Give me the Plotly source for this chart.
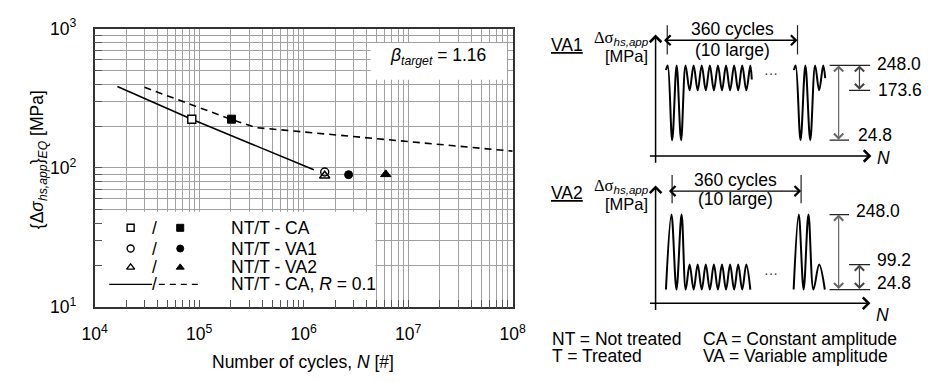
import plotly.graph_objects as go

W, H = 933, 382
FONT = "Liberation Sans, Arial, Helvetica, sans-serif"
FS = 17.5

# ---------------- S-N chart data ----------------
x_decades = [4, 5, 6, 7, 8]
y_decades = [1, 2, 3]

nt_curve_N = [1.65e4, 8.5e4, 1.25e6]          # NT - CA, R = 0.1 (solid)
nt_curve_S = [384, 224, 97]
t_curve_N = [3.0e4, 2.0e5, 3.5e5, 1.0e6, 1.0e8]  # T - CA, R = 0.1 (dashed)
t_curve_S = [379, 224, 195, 181, 132]

nt_ca_N, nt_ca_S = [8.5e4], [224]
t_ca_N, t_ca_S = [2.04e5], [224]
nt_va1_N, nt_va1_S = [1.59e6], [93.5]
t_va1_N, t_va1_S = [2.69e6], [89.5]
nt_va2_N, nt_va2_S = [1.59e6], [88.0]
t_va2_N, t_va2_S = [6.1e6], [90.0]

beta_target = 1.16
legend_labels = ["NT/T - CA", "NT/T - VA1", "NT/T - VA2", "NT/T - CA, <i>R</i> = 0.1"]

# ---------------- load spectra data ----------------
S_MAX, S_MIN = 248.0, 24.8
VA1_SMALL_MIN = 173.6
VA2_SMALL_MAX = 99.2

va1_g1_t = [1.28, 1.5, 2.05, 2.6, 3.15, 3.7] + [4.2 + 0.5 * i for i in range(16)] + [11.88]
va1_g1_s = [234, S_MAX, S_MIN, S_MAX, S_MIN, S_MAX] + [VA1_SMALL_MIN, S_MAX] * 8 + [206]
va1_g2_t = [17.08, 17.3, 17.9, 18.5, 19.1, 19.7, 20.2, 20.7, 20.95]
va1_g2_s = [234, S_MAX, S_MIN, S_MAX, S_MIN, S_MAX, VA1_SMALL_MIN, S_MAX, 210]

va2_g1_t = [1.28, 1.96, 2.58, 3.21, 3.72] + [4.2 + 0.5 * i for i in range(16)]
va2_g1_s = [S_MIN, S_MAX, S_MIN, S_MAX, S_MIN] + [VA2_SMALL_MAX, S_MIN] * 8
va2_g2_t = [17.05, 17.68, 18.28, 18.88, 19.5, 20.2, 20.9]
va2_g2_s = [S_MIN, S_MAX, S_MIN, S_MAX, S_MIN, VA2_SMALL_MAX, S_MIN]


# ---------------- helpers (layout placement only) ----------------
def PX(px):
    return px / W


def PY(py):
    return 1 - py / H


def main_x(px):
    return 10 ** (4 + (px - 84) / 107.5)


def main_y(py):
    return 10 ** (3 - (py - 17.7) / 147.8)


AX0 = 661      # pixel position of the spectra time axis origin
TSCALE = 8.33  # pixels per cycle in the spectra sketches


def tx(px):
    return (px - AX0) / TSCALE


fig = go.Figure()

# ---- main chart traces ----
fig.add_trace(go.Scatter(x=nt_curve_N, y=nt_curve_S, mode="lines",
                         line=dict(color="black", width=1.6)))
fig.add_trace(go.Scatter(x=t_curve_N, y=t_curve_S, mode="lines",
                         line=dict(color="black", width=1.6, dash="7px,5px")))


def add_marker(N, S, symbol, filled, size, xa="x", ya="y"):
    if filled:
        m = dict(symbol=symbol, size=size, color="black", line=dict(color="black", width=1))
    elif symbol == "square":
        m = dict(symbol="square", size=size, color="white", line=dict(color="black", width=1.4))
    else:
        m = dict(symbol=symbol + "-open", size=size, color="black", line=dict(width=1.4))
    fig.add_trace(go.Scatter(x=N, y=S, mode="markers", marker=m, cliponaxis=False,
                             xaxis=xa, yaxis=ya))


add_marker(nt_ca_N, nt_ca_S, "square", False, 8)
add_marker(t_ca_N, t_ca_S, "square", True, 8)
add_marker(nt_va1_N, nt_va1_S, "circle", False, 8)
add_marker(t_va1_N, t_va1_S, "circle", True, 8)
add_marker(nt_va2_N, nt_va2_S, "triangle-up", False, 9)
add_marker(t_va2_N, t_va2_S, "triangle-up", True, 9)

# ---- legend keys (pixel-space helper axes) ----
leg_rows = [229, 251, 271, 289]
for sym, py in zip(["square", "circle", "triangle-up"], leg_rows[:3]):
    add_marker([121], [py], sym, False, 7, "x4", "y4")
    add_marker([172], [py], sym, True, 7, "x4", "y4")
fig.add_trace(go.Scatter(x=[99, 143], y=[leg_rows[3]] * 2, mode="lines",
                         line=dict(color="black", width=1.4), xaxis="x4", yaxis="y4"))
fig.add_trace(go.Scatter(x=[150, 193], y=[leg_rows[3]] * 2, mode="lines",
                         line=dict(color="black", width=1.4, dash="6px,5px"),
                         xaxis="x4", yaxis="y4"))

# ---- waveforms ----
for t, s, xa, ya in [(va1_g1_t, va1_g1_s, "x2", "y2"), (va1_g2_t, va1_g2_s, "x2", "y2"),
                     (va2_g1_t, va2_g1_s, "x3", "y3"), (va2_g2_t, va2_g2_s, "x3", "y3")]:
    fig.add_trace(go.Scatter(x=t, y=s, mode="lines", line=dict(color="black", width=2, shape="spline"),
                             xaxis=xa, yaxis=ya, cliponaxis=False))

# ---------------- axes ----------------
xt = [m * 10 ** d for d in x_decades[:-1] for m in range(1, 10)] + [10 ** x_decades[-1]]
xtt = [f"10<sup>{d}</sup>" if m == 1 else "" for d in x_decades[:-1] for m in range(1, 10)] + [f"10<sup>{x_decades[-1]}</sup>"]
yt = [m * 10 ** d for d in y_decades[:-1] for m in range(1, 10)] + [10 ** y_decades[-1]]
ytt = [f"10<sup>{d}</sup>" if m == 1 else "" for d in y_decades[:-1] for m in range(1, 10)] + [f"10<sup>{y_decades[-1]}</sup>"]

common = dict(showgrid=True, gridcolor="#a0a0a0", gridwidth=1.2, zeroline=False,
              showline=True, linecolor="#333", linewidth=1.5, mirror=True,
              ticks="inside", ticklen=8, tickcolor="#555", tickwidth=1.2,
              tickfont=dict(size=FS, family=FONT, color="black"))
hidden = dict(visible=False, showgrid=False, zeroline=False, fixedrange=True)
TMAX = (W - AX0) / TSCALE

fig.update_layout(
    width=W, height=H, margin=dict(l=0, r=0, t=0, b=0),
    paper_bgcolor="white", plot_bgcolor="rgba(0,0,0,0)", showlegend=False,
    font=dict(family=FONT, size=FS, color="black"),
    xaxis=dict(type="log", range=[4, 8], domain=[PX(84), PX(514)], anchor="y",
               tickvals=xt, ticktext=xtt, ticklabelstandoff=10, **common),
    yaxis=dict(type="log", range=[1, 3], domain=[PY(313.3), PY(17.7)], anchor="x",
               tickvals=yt, ticktext=ytt, ticklabelstandoff=13, **common),
    xaxis2=dict(range=[0, TMAX], domain=[PX(AX0), 1], anchor="y2", **hidden),
    yaxis2=dict(range=[-22.2, 368.2], domain=[PY(152.7), PY(14)], anchor="x2", **hidden),
    xaxis3=dict(range=[0, TMAX], domain=[PX(AX0), 1], anchor="y3", **hidden),
    yaxis3=dict(range=[-15.9, 365.9], domain=[PY(309), PY(173)], anchor="x3", **hidden),
    xaxis4=dict(range=[0, W], domain=[0, 1], anchor="y4", **hidden),
    yaxis4=dict(range=[H, 0], domain=[0, 1], anchor="x4", **hidden),
)

shapes = []
# white boxes hiding the grid (legend box and beta box)
shapes.append(dict(type="rect", xref="x", yref="y", layer="between",
                   x0=main_x(84), x1=main_x(372.7), y0=main_y(313.3), y1=main_y(212),
                   fillcolor="white", line=dict(width=0)))
shapes.append(dict(type="rect", xref="x", yref="y", layer="between",
                   x0=main_x(368), x1=main_x(508), y0=main_y(72), y1=main_y(33),
                   fillcolor="white", line=dict(width=0)))

# level lines of the spectra
LC = "#222"
for xa, ya, lines in [
    ("x2", "y2", [(S_MAX, 840, 881.7), (VA1_SMALL_MIN, 860, 881.7), (S_MIN, 840, 860)]),
    ("x3", "y3", [(S_MAX, 840, 860), (VA2_SMALL_MAX, 860, 881.7), (S_MIN, 840, 881.7)]),
]:
    for lev, a, b in lines:
        shapes.append(dict(type="line", xref=xa, yref=ya, x0=tx(a), x1=tx(b), y0=lev, y1=lev,
                           line=dict(color=LC, width=1.3)))

# "360 cycles" bracket ticks
for x0, x1, ytop, ybot in [(673, 807, 14, 45), (678, 810.7, 173, 203)]:
    for xx in (x0, x1):
        shapes.append(dict(type="line", xref="paper", yref="paper", x0=PX(xx), x1=PX(xx),
                           y0=PY(ytop), y1=PY(ybot), line=dict(color="#222", width=1.2)))
fig.update_layout(shapes=shapes)

ann = []


def text(t, px, py, xanchor="center", size=FS, **kw):
    ann.append(dict(text=t, x=PX(px), y=PY(py), xref="paper", yref="paper", showarrow=False,
                    xanchor=xanchor, yanchor="middle", font=dict(size=size, family=FONT,
                                                                   color=kw.pop("color", "black")), **kw))


def arrow_px(xtip, ytip, xtail, ytail, both=False, color="black", width=1.3):
    ann.append(dict(text="", x=PX(xtip), y=PY(ytip), xref="paper", yref="paper",
                    ax=xtail - xtip, ay=ytail - ytip, showarrow=True, arrowhead=4, arrowsize=1.5,
                    startarrowhead=4, startarrowsize=1.5,
                    arrowside="end+start" if both else "end", arrowwidth=width,
                    arrowcolor=color, standoff=0, startstandoff=0, borderpad=0,
                    font=dict(size=1)))


def arrow_data(xa, ya, xv, y_tip, y_tail, color="#555"):
    ann.append(dict(text="", x=xv, y=y_tip, xref=xa, yref=ya, axref=xa, ayref=ya,
                    ax=xv, ay=y_tail, showarrow=True, arrowhead=4, arrowsize=1.5,
                    startarrowhead=4, startarrowsize=1.5, arrowside="end+start",
                    arrowwidth=1.2, arrowcolor=color, standoff=0, startstandoff=0,
                    borderpad=0, font=dict(size=1)))


def level_text(xa, ya, t, px, lev, yshift):
    ann.append(dict(text=t, x=tx(px), y=lev, xref=xa, yref=ya, showarrow=False,
                    xanchor="left", yanchor="middle", yshift=yshift,
                    font=dict(size=FS, family=FONT, color="black")))


# main chart texts
text("<i>β</i><sub><i>target</i></sub> = %.2f" % beta_target, 437, 47)
text("Number of cycles, <i>N</i> [#]", 298.7, 371.7)
ann.append(dict(text="{Δ<i>σ</i><sub><i>hs,app</i></sub>}<sub><i>EQ</i></sub> [MPa]",
                x=PX(27), y=PY(157), xref="paper", yref="paper", showarrow=False,
                textangle=-90, xanchor="center", yanchor="middle",
                font=dict(size=FS, family=FONT, color="black")))
for lab, py in zip(legend_labels, leg_rows):
    text(lab, 222.7, py, xanchor="left")
for py in leg_rows:
    text("/", 146, py)

# spectra panel
SER = '<span style="font-family:Liberation Serif, Times New Roman, serif">Δσ</span>'
for name, yo in [("VA1", 0), ("VA2", 157)]:
    text("<u>%s</u>" % name, 551.7, 35 + yo, xanchor="left")
    text(SER + "<sub><i>hs,app</i></sub>", 656, 28 + yo, xanchor="right", size=16.5)
    text("[MPa]", 655, 47 + yo, xanchor="right", size=16.5)

text("360 cycles", 740, 18.3)
text("(10 large)", 740, 40.7)
text("360 cycles", 743, 178.3)
text("(10 large)", 743, 198.3)
text("···", 780, 65, size=14, color="#333")
text("···", 780, 277, size=14, color="#333")
text("<i>N</i>", 895, 155)
text("<i>N</i>", 894, 322)

arrow_px(807, 30, 673, 30, both=True)
arrow_px(810.7, 190, 678, 190, both=True)
# diagram axes
arrow_px(661, 24, 661, 152.7, width=1.5)
arrow_px(883, 152.7, 661, 152.7, width=1.5)
arrow_px(661, 184, 661, 309, width=1.5)
arrow_px(882, 309, 661, 309, width=1.5)

# level arrows and labels
arrow_data("x2", "y2", tx(849.3), S_MAX, S_MIN, color="#666")
arrow_data("x2", "y2", tx(870.7), S_MAX, VA1_SMALL_MIN, color="#444")
arrow_data("x3", "y3", tx(849.3), S_MAX, S_MIN, color="#666")
arrow_data("x3", "y3", tx(870.7), VA2_SMALL_MAX, S_MIN, color="#444")

level_text("x2", "y2", "%.1f" % S_MAX, 887, S_MAX, 1.5)
level_text("x2", "y2", "%.1f" % VA1_SMALL_MIN, 888, VA1_SMALL_MIN, 0)
level_text("x2", "y2", "%.1f" % S_MIN, 866.7, S_MIN, 5.5)
level_text("x3", "y3", "%.1f" % S_MAX, 865, S_MAX, 3.3)
level_text("x3", "y3", "%.1f" % VA2_SMALL_MAX, 886.7, VA2_SMALL_MAX, 5)
level_text("x3", "y3", "%.1f" % S_MIN, 886.7, S_MIN, 6.5)

# notes
text("NT = Not treated", 552, 346.7, xanchor="left")
text("T = Treated", 552, 365, xanchor="left")
text("CA = Constant amplitude", 708, 346.7, xanchor="left")
text("VA = Variable amplitude", 708, 365, xanchor="left")

fig.update_layout(annotations=ann)
fig.write_html("out.html")
